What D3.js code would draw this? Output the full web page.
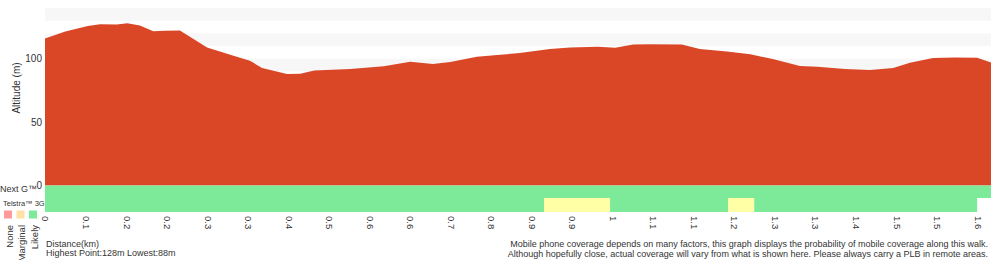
<!DOCTYPE html>
<html>
<head>
<meta charset="utf-8">
<script src="https://cdn.jsdelivr.net/npm/d3@7"></script>
<style>
  body { margin: 0; background: #fff; }
  svg { display: block; font-family: "Liberation Sans", Arial, sans-serif; }
  text { fill: #333; }
</style>
</head>
<body>
<script>
let width = 1000;
let height = 260;

// elevation profile: distance (km) and altitude (m)
let distances = [0, 0.035, 0.074, 0.095, 0.124, 0.142, 0.164, 0.187, 0.207, 0.233, 0.280, 0.320, 0.354, 0.375, 0.418, 0.441, 0.465,
  0.527, 0.585, 0.631, 0.670, 0.700, 0.746, 0.786, 0.820, 0.872, 0.907, 0.955, 0.985, 1.016, 1.045, 1.100, 1.131,
  1.178, 1.218, 1.257, 1.304, 1.334, 1.382, 1.425, 1.465, 1.494, 1.534, 1.572, 1.610, 1.634];
let altitudes = [115.9, 121.4, 125.9, 127.2, 126.9, 128, 126.1, 121.7, 122, 122.2, 108.9, 103.1, 98.4, 92.7, 88, 88.2, 90.8,
  91.9, 94, 97.6, 95.8, 97.4, 101.6, 103.1, 104.5, 107.6, 108.9, 109.4, 108.6, 111.2, 111.5, 111.2, 107.6,
  105.7, 103.5, 99.8, 94.3, 93.7, 91.9, 91.1, 92.7, 96.9, 100.5, 100.9, 100.8, 97.1];

// coverage rows: [start km, end km, level]
let nextG = [[0, 1.634, 'Likely']];
let telstra3G = [[0, 0.862, 'Likely'], [0.862, 0.976, 'Marginal'], [0.976, 1.180, 'Likely'],
  [1.180, 1.225, 'Marginal'], [1.225, 1.610, 'Likely']];

let levels = ['None', 'Marginal', 'Likely'];
let coverageColors = ['#ff9a9a', '#ffffa6', '#7dea99'];
let legendColors = ['#ff9a9a', '#ffe0a6', '#7dea99'];

let tickLabels = ['0', '0.1', '0.2', '0.2', '0.3', '0.3', '0.4', '0.5', '0.6', '0.6', '0.7', '0.8',
  '0.9', '0.9', '1', '1.1', '1.1', '1.2', '1.3', '1.3', '1.4', '1.5', '1.5', '1.6'];
let tickStep = 0.07;
let yTicks = [0, 50, 100];

let x = d3.scaleLinear().domain([0, d3.max(distances)]).range([45, 991]);
let y = d3.scaleLinear().domain([0, 140]).range([185.5, 8]);
let color = d3.scaleOrdinal().domain(levels).range(coverageColors);

let svg = d3.select('body').append('svg')
    .attr('width', width)
    .attr('height', height);

// alternating bands behind the profile
svg.append('g').selectAll('rect')
    .data(d3.range(130, 0, -20))
  .enter().append('rect')
    .attr('x', x(0))
    .attr('width', x.range()[1] - x(0))
    .attr('y', d => y(d + 10))
    .attr('height', d => y(d) - y(d + 10))
    .attr('fill', '#f7f7f7');

let points = distances.map((d, i) => ({dist: d, alt: altitudes[i]}));

let area = d3.area()
    .x(d => x(d.dist))
    .y0(y(0))
    .y1(d => y(d.alt));

svg.append('path')
    .datum(points)
    .attr('d', area)
    .attr('fill', '#da4727');

// coverage strips
let rows = [{data: nextG, top: 185.5, bottom: 198}, {data: telstra3G, top: 198, bottom: 212}];
rows.forEach(row => {
  svg.append('g').selectAll('rect')
      .data(row.data)
    .enter().append('rect')
      .attr('x', d => x(d[0]))
      .attr('width', d => x(d[1]) - x(d[0]))
      .attr('y', row.top)
      .attr('height', row.bottom - row.top)
      .attr('fill', d => color(d[2]));
});

// y axis (labels only)
let yAxis = svg.append('g')
    .attr('transform', 'translate(42,0)')
    .call(d3.axisLeft(y).tickValues(yTicks).tickSize(0).tickPadding(0));
yAxis.select('.domain').remove();
yAxis.selectAll('text')
    .attr('font-size', 10)
    .attr('font-family', null)
    .attr('fill', '#333');

svg.append('text')
    .attr('transform', 'translate(20,88) rotate(-90)')
    .attr('text-anchor', 'middle')
    .attr('font-size', 10)
    .text('Altitude (m)');

// x axis, rotated labels
let xAxis = svg.append('g')
    .attr('transform', 'translate(0,212)')
    .call(d3.axisBottom(x)
      .tickValues(tickLabels.map((t, i) => i * tickStep))
      .tickFormat((d, i) => tickLabels[i])
      .tickSize(0));
xAxis.select('.domain').remove();
xAxis.selectAll('text')
    .attr('font-size', 9.5)
    .attr('font-family', null)
    .attr('fill', '#333')
    .attr('transform', 'rotate(90)')
    .attr('text-anchor', 'start')
    .attr('x', 4)
    .attr('y', 0)
    .attr('dy', '0.32em');

// legend
svg.append('text')
    .attr('x', 0).attr('y', 192)
    .attr('font-size', 9)
    .text('Next G™');
svg.append('text')
    .attr('x', 3).attr('y', 206)
    .attr('font-size', 7.5)
    .text('Telstra™ 3G');

let legend = svg.append('g').selectAll('g')
    .data(levels)
  .enter().append('g')
    .attr('transform', (d, i) => `translate(${4 + i * 12.5},0)`);
legend.append('rect')
    .attr('y', 210.5)
    .attr('width', 8)
    .attr('height', 8)
    .attr('fill', (d, i) => legendColors[i]);
legend.append('text')
    .attr('transform', 'translate(8.5,225) rotate(-90)')
    .attr('text-anchor', 'end')
    .attr('font-size', 9.5)
    .text(d => d);

// footer notes
svg.append('text')
    .attr('x', 46).attr('y', 247)
    .attr('font-size', 9)
    .text('Distance(km)');
svg.append('text')
    .attr('x', 46).attr('y', 256)
    .attr('font-size', 9)
    .text(`Highest Point:${d3.max(altitudes).toFixed(0)}m Lowest:${d3.min(altitudes).toFixed(0)}m`);

let notes = ['Mobile phone coverage depends on many factors, this graph displays the probability of mobile coverage along this walk.',
  'Although hopefully close, actual coverage will vary from what is shown here. Please always carry a PLB in remote areas.'];
svg.append('g').selectAll('text')
    .data(notes)
  .enter().append('text')
    .attr('x', 988)
    .attr('y', (d, i) => 247 + i * 9.5)
    .attr('text-anchor', 'end')
    .attr('font-size', 9)
    .text(d => d);
</script>
</body>
</html>
